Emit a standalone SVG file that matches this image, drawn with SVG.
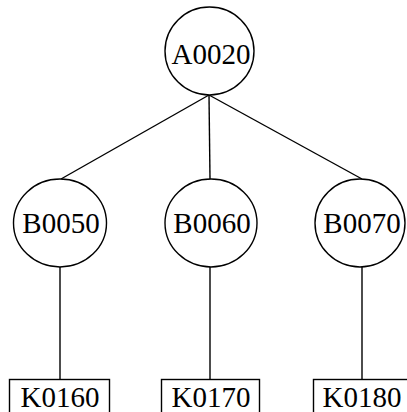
<svg xmlns="http://www.w3.org/2000/svg" width="407" height="412" viewBox="0 0 407 412">
<style>
.n{fill:#fff;stroke:#000;stroke-width:1.4}
.t{font-family:"Liberation Serif","Times New Roman",serif;font-size:29px;fill:#000;text-anchor:middle}
.c line{stroke:#000;stroke-width:1.4}
</style>
<rect width="407" height="412" fill="#fff"/>
<g class="c" id="connectors">
<line x1="209" y1="95" x2="61" y2="179"/>
<line x1="209" y1="95" x2="210" y2="179"/>
<line x1="209" y1="95" x2="362" y2="179"/>
<line x1="60" y1="267" x2="60" y2="379"/>
<line x1="210" y1="267" x2="210" y2="379"/>
<line x1="362" y1="267" x2="362" y2="379"/>
</g>
<g id="A0020"><ellipse class="n" cx="209.5" cy="51" rx="44.5" ry="44"/><text class="t" x="211" y="64">A0020</text></g>
<g id="B0050"><ellipse class="n" cx="60" cy="223" rx="46.5" ry="44"/><text class="t" x="61" y="233">B0050</text></g>
<g id="B0060"><ellipse class="n" cx="211" cy="223" rx="46" ry="44"/><text class="t" x="212" y="233">B0060</text></g>
<g id="B0070"><ellipse class="n" cx="360" cy="223" rx="45" ry="44"/><text class="t" x="362" y="233">B0070</text></g>
<g id="K0160"><rect class="n" x="9.5" y="379.5" width="100" height="40"/><text class="t" x="60" y="407">K0160</text></g>
<g id="K0170"><rect class="n" x="161.5" y="379.5" width="98" height="40"/><text class="t" x="211" y="407">K0170</text></g>
<g id="K0180"><rect class="n" x="313.5" y="379.5" width="100" height="40"/><text class="t" x="362" y="407">K0180</text></g>
</svg>
